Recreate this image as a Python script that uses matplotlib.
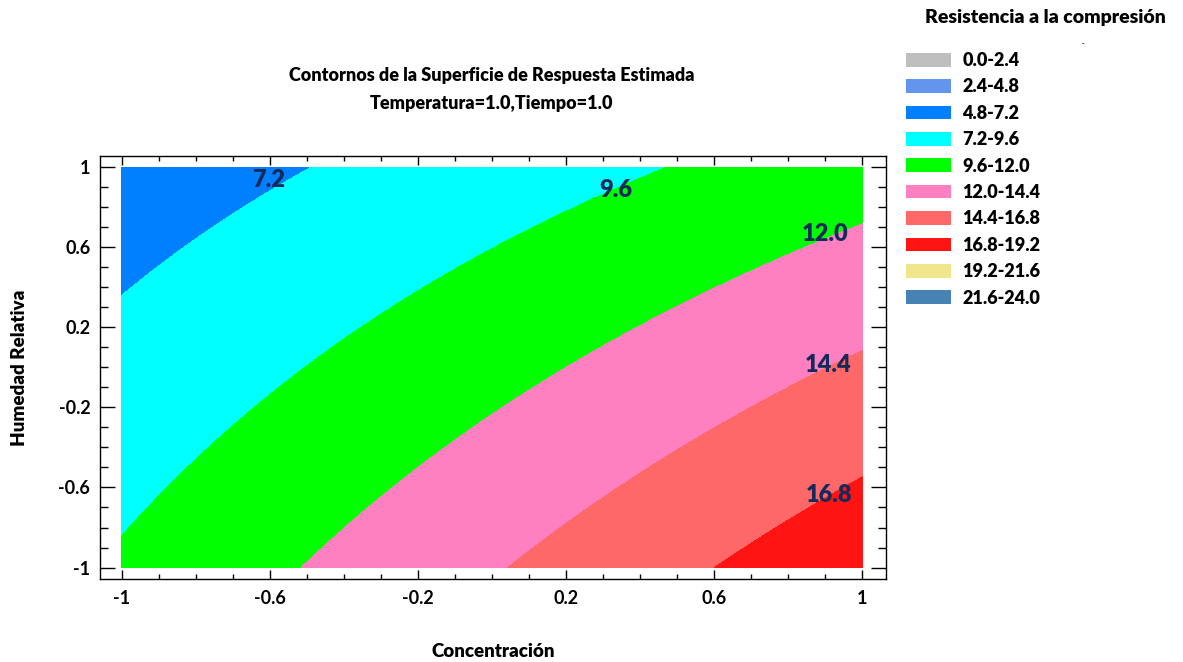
import matplotlib
matplotlib.use("Agg")
import matplotlib.pyplot as plt
import numpy as np
from matplotlib.patches import Patch

plt.rcParams["font.family"] = ["Lato", "DejaVu Sans"]
plt.rcParams["font.weight"] = "bold"

# ---- Estimated response surface (Temperatura=1.0, Tiempo=1.0) -------------
# z = b0 + bx*x + by*y + bxy*x*y   (x = Concentración, y = Humedad Relativa)
b0 = 11.32
bx = 3.4
by = -2.9
bxy = -0.9

levels = [0.0, 2.4, 4.8, 7.2, 9.6, 12.0, 14.4, 16.8, 19.2, 21.6, 24.0]
band_colors = ["#bebebe", "#6495ed", "#0080ff", "#00ffff", "#00ff00",
               "#ff80c0", "#ff6868", "#ff1414", "#f0e68c", "#4682b4"]

label_levels = [7.2, 9.6, 12.0, 14.4, 16.8]
label_pos = [(-0.604, 0.933), (0.333, 0.885), (0.899, 0.668),
             (0.907, 0.011), (0.909, -0.638)]

major_ticks = [-1, -0.6, -0.2, 0.2, 0.6, 1]
tick_labels = ["-1", "-0.6", "-0.2", "0.2", "0.6", "1"]

# ---- Surface grid ----------------------------------------------------------
xs = np.linspace(-1, 1, 301)
ys = np.linspace(-1, 1, 301)
X, Y = np.meshgrid(xs, ys)
Z = b0 + bx * X + by * Y + bxy * X * Y

fig = plt.figure(figsize=(11.83, 6.62), dpi=100)
ax = fig.add_axes([100 / 1183, 83 / 662, 786 / 1183, 423 / 662])

ax.contourf(X, Y, Z, levels=levels, colors=band_colors)

for lev, (lx, ly) in zip(label_levels, label_pos):
    ax.text(lx, ly, f"{lev:.1f}", ha="center", va="center", fontsize=17,
            fontweight="heavy", color="#15295a")

ax.set_xlim(-1.0594, 1.0635)
ax.set_ylim(-1.057, 1.055)
ax.set_xticks(major_ticks)
ax.set_xticklabels(tick_labels)
ax.set_yticks(major_ticks)
ax.set_yticklabels(tick_labels)
minor = np.round(np.arange(-1, 1.01, 0.1), 1)
ax.set_xticks(minor, minor=True)
ax.set_yticks(minor, minor=True)

ax.tick_params(which="both", direction="in", top=True, right=True,
               width=1.0, labelsize=13, colors="black")
ax.tick_params(axis="x", which="major", length=6.5, pad=8)
ax.tick_params(axis="x", which="minor", length=3.5)
ax.tick_params(axis="y", which="major", length=11, pad=7)
ax.tick_params(axis="y", which="minor", length=5.8)
for s in ax.spines.values():
    s.set_linewidth(1.0)

ax.set_xlabel("Concentración", fontsize=13.5, fontweight="heavy")
ax.xaxis.set_label_coords(0.5, -0.152)
ax.set_ylabel("Humedad Relativa", fontsize=13.5, fontweight="heavy")
ax.yaxis.set_label_coords(-0.091, 0.5)

fig.text(492 / 1183, 1 - 75 / 662, "Contornos de la Superficie de Respuesta Estimada",
         ha="center", va="center", fontsize=13, fontweight="heavy")
fig.text(492 / 1183, 1 - 104 / 662, "Temperatura=1.0,Tiempo=1.0",
         ha="center", va="center", fontsize=13, fontweight="heavy")

# ---- Legend ---------------------------------------------------------------
fig.text(925 / 1183, 1 - 18 / 662, "Resistencia a la compresión",
         ha="left", va="center", fontsize=14, fontweight="heavy")
fig.text(1083 / 1183, 1 - 44 / 662, "-", ha="center", va="center", fontsize=5)

handles = [Patch(facecolor=c, edgecolor="none") for c in band_colors]
labels = [f"{lo:.1f}-{hi:.1f}" for lo, hi in zip(levels[:-1], levels[1:])]
fig.legend(handles, labels, loc="upper left",
           bbox_to_anchor=(906 / 1183, 1 - 52 / 662), frameon=False,
           handlelength=2.5, handleheight=0.78,
           handletextpad=0.62, labelspacing=0.52, borderpad=0,
           borderaxespad=0, prop={"weight": "heavy", "size": 13})

fig.savefig("out.png", dpi=100)
